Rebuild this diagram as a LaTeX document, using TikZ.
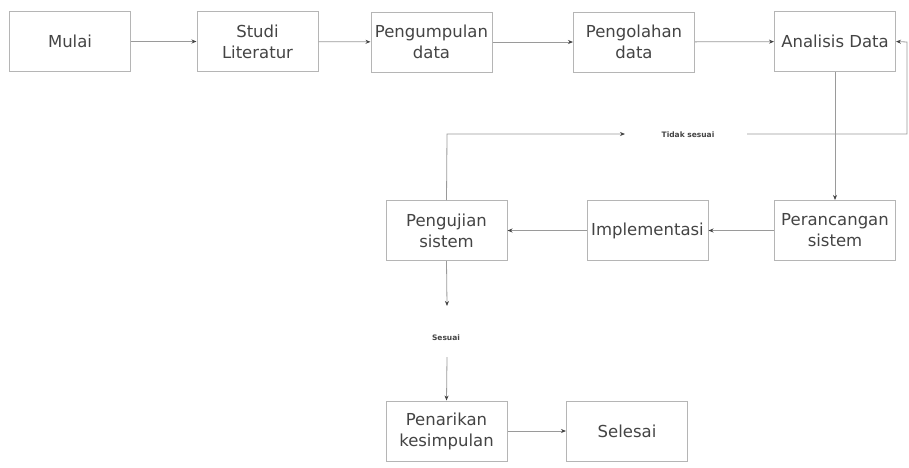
\documentclass[tikz,border=0pt]{standalone}
\usepackage{fontspec}
\setmainfont{DejaVu Sans}
\usetikzlibrary{arrows.meta}
\definecolor{boxline}{HTML}{B5B5B5}
\definecolor{conn}{HTML}{9A9A9A}
\definecolor{txt}{HTML}{444444}
\begin{document}
\begin{tikzpicture}[x=1pt,y=-1pt,
  procbox/.style={draw=boxline, line width=1pt, minimum width=121pt, minimum height=60pt,
    align=center, font=\fontsize{16.5}{21}\selectfont, text=txt, inner sep=1pt},
  smalllabel/.style={font=\fontsize{7.5}{8}\selectfont\bfseries, text=txt},
  conarrow/.style={draw=conn, line width=0.8pt, -{Stealth[length=5pt,width=4pt,color=txt]}},
  conline/.style={draw=conn, line width=0.8pt}]
\useasboundingbox (0,0) rectangle (909,467);
\fill[white] (0,0) rectangle (909,467);
\node[procbox] (mulai) at (70,41.5) {Mulai};
\node[procbox] (studi) at (257.5,41.5) {Studi\\Literatur};
\node[procbox] (kumpul) at (431.5,42) {Pengumpulan\\data};
\node[procbox] (olah) at (634,42) {Pengolahan\\data};
\node[procbox] (analisis) at (835,41.5) {Analisis Data};
\node[procbox] (rancang) at (835,230.5) {Perancangan\\sistem};
\node[procbox] (impl) at (647.5,230.5) {Implementasi};
\node[procbox] (uji) at (446.5,230.5) {Pengujian\\sistem};
\node[procbox] (tarik) at (446.5,431) {Penarikan\\kesimpulan};
\node[procbox] (selesai) at (627,431) {Selesai};
\node[smalllabel] (tidak) at (688,135) {Tidak sesuai};
\node[smalllabel] (sesuai) at (446,338) {Sesuai};
\coordinate (ujitop) at (447,134);
\coordinate (tidakin) at (625,134);
\coordinate (tidakout) at (747,134);
\coordinate (rightcorner) at (907,134);
\coordinate (rightup) at (907,42);
\coordinate (sesuaiin) at (447,306);
\coordinate (sesuaiout) at (447,357);
\draw[conarrow] (mulai) -- (studi);
\draw[conarrow] (studi) -- (kumpul);
\draw[conarrow] (kumpul) -- (olah);
\draw[conarrow] (olah) -- (analisis);
\draw[conarrow] (analisis) -- (rancang);
\draw[conarrow] (rancang) -- (impl);
\draw[conarrow] (impl) -- (uji);
\draw[conarrow] (uji.north) -- (ujitop) -- (tidakin);
\draw[conarrow] (tidakout) -- (rightcorner) -- (rightup) -- (analisis.east);
\draw[conarrow] (uji.south) -- (sesuaiin);
\draw[conarrow] (sesuaiout) -- (tarik.north);
\draw[conarrow] (tarik) -- (selesai);
\end{tikzpicture}
\end{document}
